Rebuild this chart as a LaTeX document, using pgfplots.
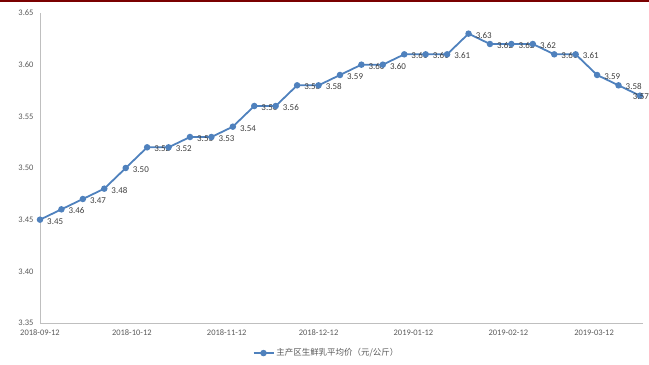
\documentclass[border=0pt]{standalone}
\usepackage{fontspec}
\setmainfont{Carlito}
\newfontfamily\cjk{Noto Sans CJK SC}
\usepackage{pgfplots}
\pgfplotsset{compat=1.18}
\definecolor{ser}{RGB}{79,129,189}
\definecolor{axg}{RGB}{191,191,191}
\definecolor{txt}{RGB}{89,89,89}
\definecolor{lbl}{RGB}{64,64,64}
\definecolor{topred}{RGB}{122,0,0}
\begin{document}
\begin{tikzpicture}
\useasboundingbox (-40bp,-42bp) rectangle (609bp,323bp);
\fill[topred] (-40bp,321bp) rectangle (609bp,323bp);
\begin{axis}[
  at={(0,0)}, anchor=south west,
  scale only axis, width=603bp, height=310bp,
  xmin=0, xmax=197, ymin=3.35, ymax=3.65,
  axis x line*=bottom, axis y line*=left,
  axis line style={draw=axg, line width=0.8pt, -},
  major tick length=0pt,
  xtick={0,30,61,91,122,153,181},
  xticklabels={2018-09-12,2018-10-12,2018-11-12,2018-12-12,2019-01-12,2019-02-12,2019-03-12},
  ytick={3.35,3.40,3.45,3.50,3.55,3.60,3.65},
  /pgf/number format/fixed, /pgf/number format/fixed zerofill,
  /pgf/number format/precision=2, /pgf/number format/assume math mode=true,
  ticklabel style={font=\fontsize{8.5}{10}\selectfont, text=txt},
  xticklabel style={yshift=-3bp},
  yticklabel style={xshift=-3bp},
  legend style={at={(axis description cs:0.475,-0.097)}, anchor=center, draw=none, fill=none,
    font=\cjk\fontsize{8.5}{10}\selectfont, text=txt},
  legend image code/.code={\draw[#1, mark repeat=2, mark phase=2] plot coordinates {(0bp,0bp) (10bp,0bp) (20bp,0bp)};},
  clip=false,
]
\addplot[color=ser, line width=1.8pt, mark=*, mark size=2.3pt, mark options={fill=ser, draw=ser},
  nodes near coords, point meta=explicit symbolic,
  nodes near coords style={anchor=west, xshift=3bp, yshift=-1.5bp, font=\fontsize{9}{10}\selectfont, text=lbl},
] table[meta=lab] {
x y lab
0 3.45 3.45
7 3.46 3.46
14 3.47 3.47
21 3.48 3.48
28 3.50 3.50
35 3.52 3.52
42 3.52 3.52
49 3.53 3.53
56 3.53 3.53
63 3.54 3.54
70 3.56 3.56
77 3.56 3.56
84 3.58 3.58
91 3.58 3.58
98 3.59 3.59
105 3.60 3.60
112 3.60 3.60
119 3.61 3.61
126 3.61 3.61
133 3.61 3.61
140 3.63 3.63
147 3.62 3.62
154 3.62 3.62
161 3.62 3.62
168 3.61 3.61
175 3.61 3.61
182 3.59 3.59
189 3.58 3.58
196 3.57 {}
};
\addlegendentry{主产区生鲜乳平均价（元/公斤）}
\addplot[forget plot, draw=none, mark=none, nodes near coords, point meta=explicit symbolic,
  nodes near coords style={anchor=center, xshift=1bp, yshift=-1bp, font=\fontsize{9}{10}\selectfont, text=lbl}]
  coordinates {(196,3.57) [3.57]};
\end{axis}
\end{tikzpicture}
\end{document}
